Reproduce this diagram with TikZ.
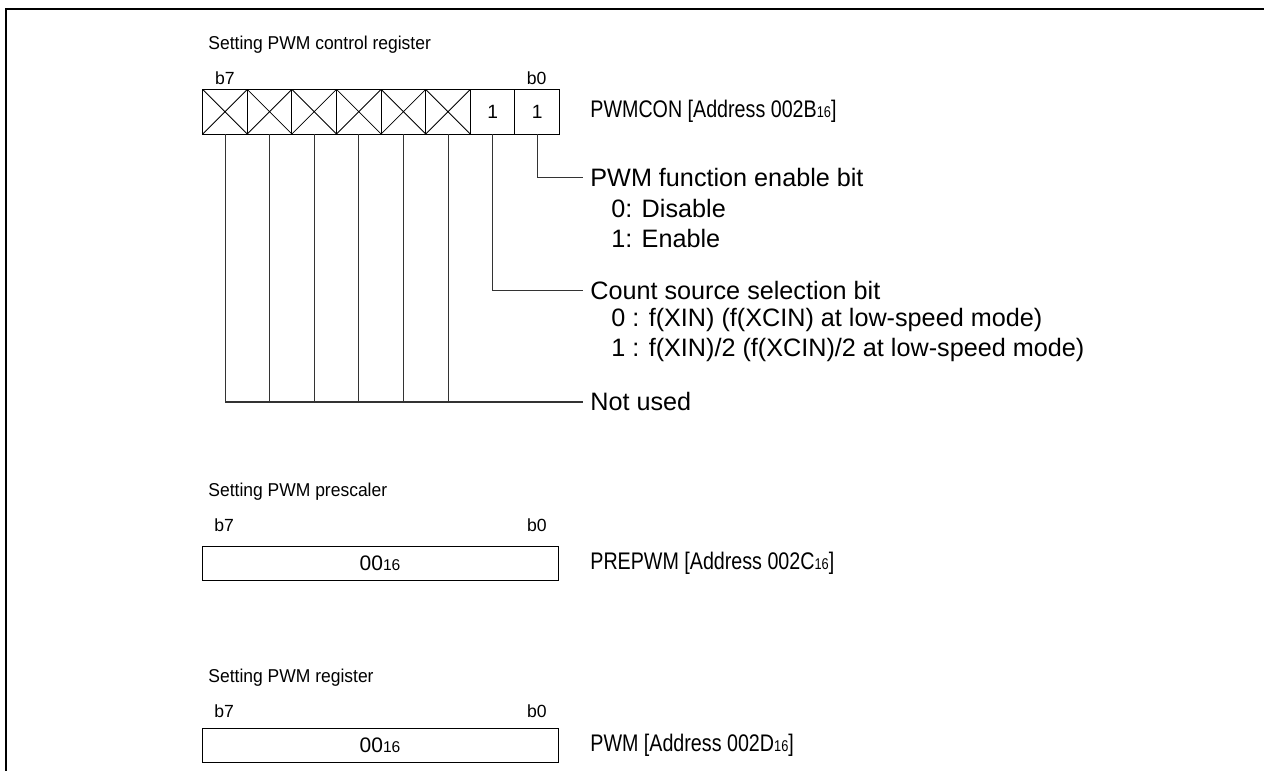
\documentclass[tikz,border=0pt]{standalone}
\usepackage{fontspec}
\setmainfont{Liberation Sans}
\newfontfamily\regfont[FakeStretch=0.82]{Liberation Sans}
\newfontfamily\titlefont[FakeStretch=0.94]{Liberation Sans}
\usetikzlibrary{positioning}

\newcommand{\hexsub}[1]{{\fontsize{7.8}{8}\selectfont #1}}

\tikzset{
  lbl/.style={inner sep=0pt, anchor=west, font=\fontsize{12.6}{15}\selectfont},
  reglbl/.style={inner sep=0pt, anchor=west, font=\regfont\fontsize{12}{14}\selectfont},
  titlelbl/.style={inner sep=0pt, anchor=west, font=\titlefont\fontsize{9.3}{11}\selectfont},
  bitlbl/.style={inner sep=0pt, font=\fontsize{8.8}{10}\selectfont},
  cell/.style={draw, line width=0.5pt, minimum size=22.3pt, inner sep=0pt, outer sep=0pt,
               font=\fontsize{9.6}{11}\selectfont},
  regbox/.style={draw, line width=0.5pt, minimum width=178pt, minimum height=17pt,
                 inner sep=0pt, outer sep=0pt, font=\fontsize{10.5}{12}\selectfont},
  leader/.style={draw=black!80, line width=0.5pt}
}

\begin{document}
\begin{tikzpicture}[x=0.5pt, y=-0.5pt]
  \useasboundingbox (0,0) rectangle (1264,771);
  % frame
  \draw[line width=1pt] (6,771) -- (6,9) -- (1264,9);

  % PWM control register
  \node[titlelbl] (t1) at (208,45) {Setting PWM control register};
  \foreach \b [count=\i from 0] in {7,...,2} {
    \node[cell] (bit\b) at ({225+\i*44.6},111.7) {};
    \draw[line width=0.4pt] (bit\b.north west) -- (bit\b.south east)
                            (bit\b.north east) -- (bit\b.south west);
  }
  \node[cell] (bit1) at ({225+6*44.6},111.7) {1};
  \node[cell] (bit0) at ({225+7*44.6},111.7) {1};
  \node[bitlbl, anchor=west] at ([xshift=6pt, yshift=5.4pt]bit7.north west) {b7};
  \node[bitlbl, anchor=east] at ([xshift=-6.3pt, yshift=5.4pt]bit0.north east) {b0};
  \node[reglbl] (con) at (590,111.7) {PWMCON [Address 002B\hexsub{16}]};

  \node[lbl] (en) at (590,177) {PWM function enable bit};
  \node[lbl] (en0) at (611,208) {0: Disable};
  \node[lbl] (en1) at (611,238) {1: Enable};

  \node[lbl] (cs) at (590,290.7) {Count source selection bit};
  \node[lbl] (cs0) at (611,320) {0 : f(XIN) (f(XCIN) at low-speed mode)};
  \node[lbl] (cs1) at (611,350) {1 : f(XIN)/2 (f(XCIN)/2 at low-speed mode)};

  \node[lbl] (nu) at (590,401.7) {Not used};
  \coordinate (nuend) at ([xshift=-3.5pt]nu.west);

  \draw[leader] (bit0.south) |- ([xshift=-3.5pt]en.west);
  \draw[leader] (bit1.south) |- ([xshift=-3.5pt]cs.west);
  \foreach \b in {7,...,2}
    \draw[leader] (bit\b.south) -- (bit\b.south |- nuend);
  \draw[leader, line width=0.8pt] (bit7.south |- nuend) -- (nuend);

  % PWM prescaler
  \node[regbox] (pre) at (380,563) {00\hexsub{16}};
  \node[titlelbl] (t2) at ([xshift=3pt, yshift=27pt]pre.north west) {Setting PWM prescaler};
  \node[bitlbl, anchor=west] at ([xshift=6pt, yshift=10.5pt]pre.north west) {b7};
  \node[bitlbl, anchor=east] at ([xshift=-5.5pt, yshift=10.5pt]pre.north east) {b0};
  \node[reglbl] (prepwm) at (590,563) {PREPWM [Address 002C\hexsub{16}]};

  % PWM register
  \node[regbox] (pwm) at (380,745.5) {00\hexsub{16}};
  \node[titlelbl] (t3) at ([xshift=3pt, yshift=25.5pt]pwm.north west) {Setting PWM register};
  \node[bitlbl, anchor=west] at ([xshift=6pt, yshift=8.5pt]pwm.north west) {b7};
  \node[bitlbl, anchor=east] at ([xshift=-5.5pt, yshift=8.5pt]pwm.north east) {b0};
  \node[reglbl] (pwmadr) at (590,745.5) {PWM [Address 002D\hexsub{16}]};
\end{tikzpicture}
\end{document}
